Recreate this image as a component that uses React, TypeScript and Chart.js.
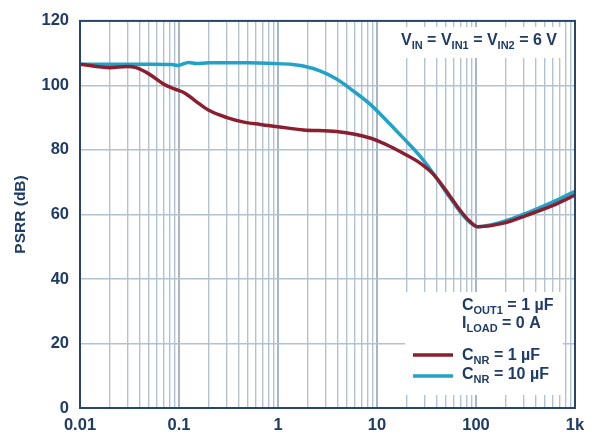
import React, { useEffect, useRef } from 'react';
import { Chart, registerables } from 'chart.js';

Chart.register(...registerables);

// PSRR vs frequency (kHz), C_NR = 1 µF
const freqCnr1 = [0.01, 0.02, 0.03, 0.037, 0.05, 0.07, 0.09, 0.115, 0.145, 0.2, 0.3, 0.44, 0.66, 1.0, 1.8, 3.9, 8.5, 12.5, 18, 27, 37, 54, 69, 87, 104, 190, 330, 600, 1000];
const psrrCnr1 = [106.6, 105.5, 105.9, 105.5, 103.5, 100.4, 98.9, 97.6, 95.3, 92.3, 90.1, 88.7, 87.9, 87.2, 86.2, 85.7, 83.7, 81.6, 79.1, 76.0, 72.5, 65.9, 61.3, 57.8, 56.2, 57.3, 59.8, 62.8, 66.0];

// PSRR vs frequency (kHz), C_NR = 10 µF
const freqCnr10 = [0.01, 0.05, 0.085, 0.097, 0.125, 0.15, 0.2, 0.5, 0.9, 1.4, 1.8, 2.65, 3.9, 5.7, 8.5, 12.6, 18.3, 27, 37, 54, 69, 87, 104, 190, 330, 600, 1000];
const psrrCnr10 = [106.6, 106.6, 106.5, 106.2, 107.1, 106.8, 107.0, 107.0, 106.8, 106.5, 106.0, 104.5, 102.0, 98.4, 94.2, 89.0, 83.8, 78.2, 72.7, 65.4, 60.9, 57.5, 56.2, 57.8, 60.5, 63.9, 67.2];

const decades = [0.01, 0.1, 1, 10, 100, 1000];
const decadeLabels = ['0.01', '0.1', '1', '10', '100', '1k'];
const yTickValues = [0, 20, 40, 60, 80, 100, 120];

const colorCnr1 = '#8a1f30';
const colorCnr10 = '#22a2c6';
const textColor = '#1f3c66';
const frameColor = '#27466d';
const gridColor = '#b3c2d1';
const fontFamily = '"Liberation Sans", Arial, Helvetica, sans-serif';

type Run = { t: string; sub?: boolean };

const inputNote: Run[] = [
  { t: 'V' }, { t: 'IN', sub: true }, { t: ' = V' }, { t: 'IN1', sub: true },
  { t: ' = V' }, { t: 'IN2', sub: true }, { t: ' = 6 V' },
];
const condLine1: Run[] = [{ t: 'C' }, { t: 'OUT1', sub: true }, { t: ' = 1 µF' }];
const condLine2: Run[] = [{ t: 'I' }, { t: 'LOAD', sub: true }, { t: ' = 0 A' }];
const legendCnr1: Run[] = [{ t: 'C' }, { t: 'NR', sub: true }, { t: ' = 1 µF' }];
const legendCnr10: Run[] = [{ t: 'C' }, { t: 'NR', sub: true }, { t: ' = 10 µF' }];

function drawRuns(ctx: CanvasRenderingContext2D, runs: Run[], x: number, y: number, size: number, subSize: number) {
  let cx = x;
  ctx.textBaseline = 'alphabetic';
  ctx.textAlign = 'left';
  ctx.fillStyle = textColor;
  for (const r of runs) {
    ctx.font = `bold ${r.sub ? subSize : size}px ${fontFamily}`;
    ctx.fillText(r.t, cx, r.sub ? y + 4 : y);
    cx += ctx.measureText(r.t).width;
  }
}

const annotations = {
  id: 'annotations',
  beforeDatasetsDraw(chart: any) {
    const ctx = chart.ctx as CanvasRenderingContext2D;
    ctx.save();
    ctx.fillStyle = '#ffffff';
    ctx.fillRect(396, 27, 167, 31);
    ctx.fillRect(405, 292, 158, 103);
    ctx.restore();
  },
  afterDatasetsDraw(chart: any) {
    const ctx = chart.ctx as CanvasRenderingContext2D;
    const a = chart.chartArea;
    ctx.save();
    drawRuns(ctx, inputNote, 401, 45, 16, 11);
    drawRuns(ctx, condLine1, 462, 310, 16, 11);
    drawRuns(ctx, condLine2, 462, 328, 16, 11);
    drawRuns(ctx, legendCnr1, 462, 360, 16, 11);
    drawRuns(ctx, legendCnr10, 462, 379, 16, 11);
    ctx.lineWidth = 3.5;
    ctx.strokeStyle = colorCnr1;
    ctx.beginPath();
    ctx.moveTo(413, 355);
    ctx.lineTo(453, 355);
    ctx.stroke();
    ctx.strokeStyle = colorCnr10;
    ctx.beginPath();
    ctx.moveTo(413, 376);
    ctx.lineTo(453, 376);
    ctx.stroke();
    ctx.strokeStyle = frameColor;
    ctx.lineWidth = 2;
    ctx.strokeRect(a.left, a.top, a.right - a.left, a.bottom - a.top);
    ctx.restore();
  },
};

function isDecade(v: number) {
  const l = Math.log10(v);
  return Math.abs(l - Math.round(l)) < 1e-6;
}

export default function App() {
  const ref = useRef<HTMLCanvasElement | null>(null);

  useEffect(() => {
    if (!ref.current) return;
    const xTicks: number[] = [];
    decades.forEach((d, i) => {
      if (i === decades.length - 1) {
        xTicks.push(d);
      } else {
        for (let m = 1; m <= 9; m++) xTicks.push(Number((d * m).toPrecision(6)));
      }
    });

    const chart = new Chart(ref.current, {
      type: 'line',
      data: {
        datasets: [
          {
            label: 'C_NR = 1 µF',
            data: freqCnr1.map((f, i) => ({ x: f, y: psrrCnr1[i] })),
            borderColor: colorCnr1,
            borderWidth: 3.5,
            pointRadius: 0,
            cubicInterpolationMode: 'monotone',
            order: 1,
          },
          {
            label: 'C_NR = 10 µF',
            data: freqCnr10.map((f, i) => ({ x: f, y: psrrCnr10[i] })),
            borderColor: colorCnr10,
            borderWidth: 3.5,
            pointRadius: 0,
            cubicInterpolationMode: 'monotone',
            order: 2,
          },
        ],
      },
      options: {
        responsive: false,
        animation: false,
        events: [],
        layout: { padding: { left: 0, right: 18, top: 13, bottom: 0 } },
        plugins: { legend: { display: false }, tooltip: { enabled: false } },
        scales: {
          x: {
            type: 'logarithmic',
            min: 0.01,
            max: 1000,
            afterBuildTicks: (scale: any) => {
              scale.ticks = xTicks.map((v) => ({ value: v }));
            },
            afterFit: (scale: any) => {
              scale.height = 26;
            },
            border: { display: false },
            grid: {
              drawTicks: false,
              color: (c: any) => (c.tick && isDecade(c.tick.value) ? '#a5b6c8' : gridColor),
              lineWidth: (c: any) => (c.tick && isDecade(c.tick.value) ? 2 : 1.4),
            },
            ticks: {
              autoSkip: false,
              maxRotation: 0,
              minRotation: 0,
              padding: 8,
              color: textColor,
              font: { family: fontFamily, size: 16.5, weight: 'bold' },
              callback: (v: any) => {
                const idx = decades.findIndex((d) => Math.abs(d - Number(v)) / d < 1e-6);
                return idx >= 0 ? decadeLabels[idx] : '';
              },
            },
          },
          y: {
            min: 0,
            max: 120,
            afterBuildTicks: (scale: any) => {
              scale.ticks = yTickValues.map((v) => ({ value: v }));
            },
            afterFit: (scale: any) => {
              scale.width = 80;
            },
            border: { display: false },
            grid: { drawTicks: false, color: gridColor, lineWidth: 1.6 },
            ticks: {
              padding: 11,
              color: textColor,
              font: { family: fontFamily, size: 16.5, weight: 'bold' },
            },
            title: {
              display: true,
              text: 'PSRR (dB)',
              color: textColor,
              font: { family: fontFamily, size: 15.5, weight: 'bold' },
              padding: { top: 11, bottom: 0 },
            },
          },
        },
      },
      plugins: [annotations],
    } as any);
    return () => chart.destroy();
  }, []);

  return (
    <div style={{ position: 'fixed', left: 0, top: 0, width: 593, height: 434, background: '#fff' }}>
      <canvas ref={ref} width={593} height={434} />
    </div>
  );
}
